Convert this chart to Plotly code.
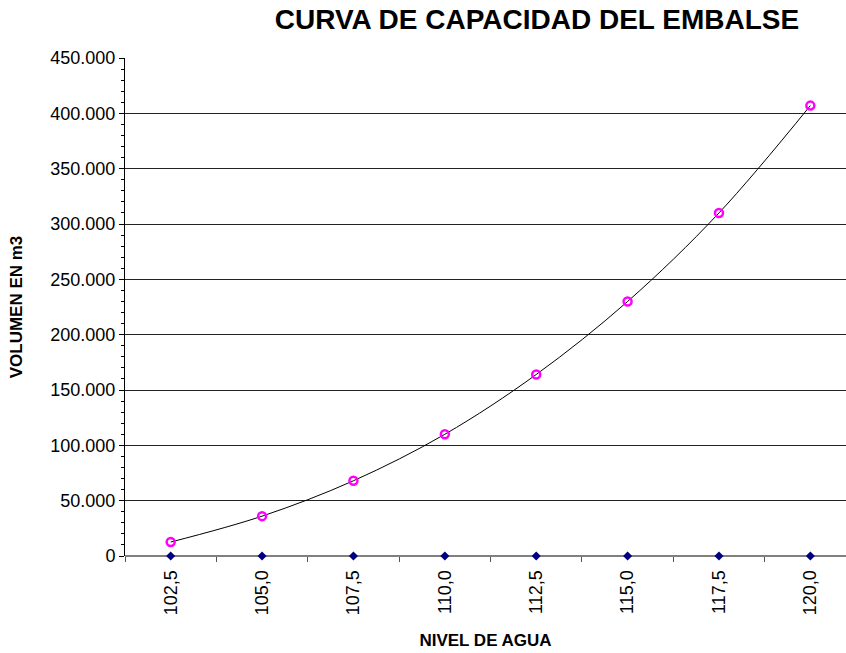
import plotly.graph_objects as go

# Data
niveles = ["102,5", "105,0", "107,5", "110,0", "112,5", "115,0", "117,5", "120,0"]
volumen = [12600, 36000, 68000, 110000, 164000, 230000, 310000, 407000]
base = [0, 0, 0, 0, 0, 0, 0, 0]

x_idx = list(range(len(niveles)))

fig = go.Figure()

# Navy diamonds along the zero line
fig.add_trace(go.Scatter(
    x=x_idx, y=base, mode='markers',
    marker=dict(symbol='diamond', size=7, color='#000080'),
    showlegend=False, cliponaxis=False
))

# Smoothed capacity curve with magenta markers
fig.add_trace(go.Scatter(
    x=x_idx, y=volumen, mode='lines+markers',
    line=dict(color='black', width=1, shape='spline', smoothing=1.0),
    marker=dict(symbol='circle-open', size=8, color='#FF00FF', line=dict(width=2.5)),
    showlegend=False, cliponaxis=False
))

fig.update_layout(
    width=846, height=653,
    margin=dict(l=125, r=0, t=58, b=97),
    paper_bgcolor='white', plot_bgcolor='white',
    separators=',.',
    font=dict(family='Liberation Sans, Arial', color='black', size=18),
    title=dict(
        text='<b>CURVA DE CAPACIDAD DEL EMBALSE</b>',
        x=537 / 846, xanchor='center', y=1 - 19 / 653, yanchor='middle',
        font=dict(size=28, family='Liberation Sans, Arial', color='black')
    ),
    xaxis=dict(
        range=[-0.5, 7.39],
        tickmode='array', tickvals=x_idx, ticktext=niveles,
        tickangle=-90, ticks='outside', ticklen=6, tickcolor='rgba(0,0,0,0)',
        tickfont=dict(size=18),
        showgrid=False, zeroline=False,
        showline=False, automargin=False,
        minor=dict(tick0=0.5, dtick=1, ticks='outside', ticklen=5, tickcolor='#555555', showgrid=False),
        title=dict(text='<b>NIVEL DE AGUA</b>', font=dict(size=17), standoff=19),
    ),
    yaxis=dict(
        range=[0, 450000],
        tickmode='linear', tick0=0, dtick=50000,
        tickformat=',d',
        ticks='outside', ticklen=5, tickcolor='black',
        tickfont=dict(size=18),
        showgrid=True, gridcolor='#222222', gridwidth=1,
        zeroline=True, zerolinecolor='#808080', zerolinewidth=2,
        showline=True, linecolor='black', linewidth=1, automargin=False,
        minor=dict(dtick=10000, ticks='outside', ticklen=3, tickcolor='black', showgrid=False),
        title=dict(text='<b>VOLUMEN EN m3</b>', font=dict(size=17), standoff=23),
    ),
)

# page fills the window exactly, as the reference does
fig.write_html("out.html", config={'displayModeBar': False},
               post_script="document.body.style.margin='0';")
